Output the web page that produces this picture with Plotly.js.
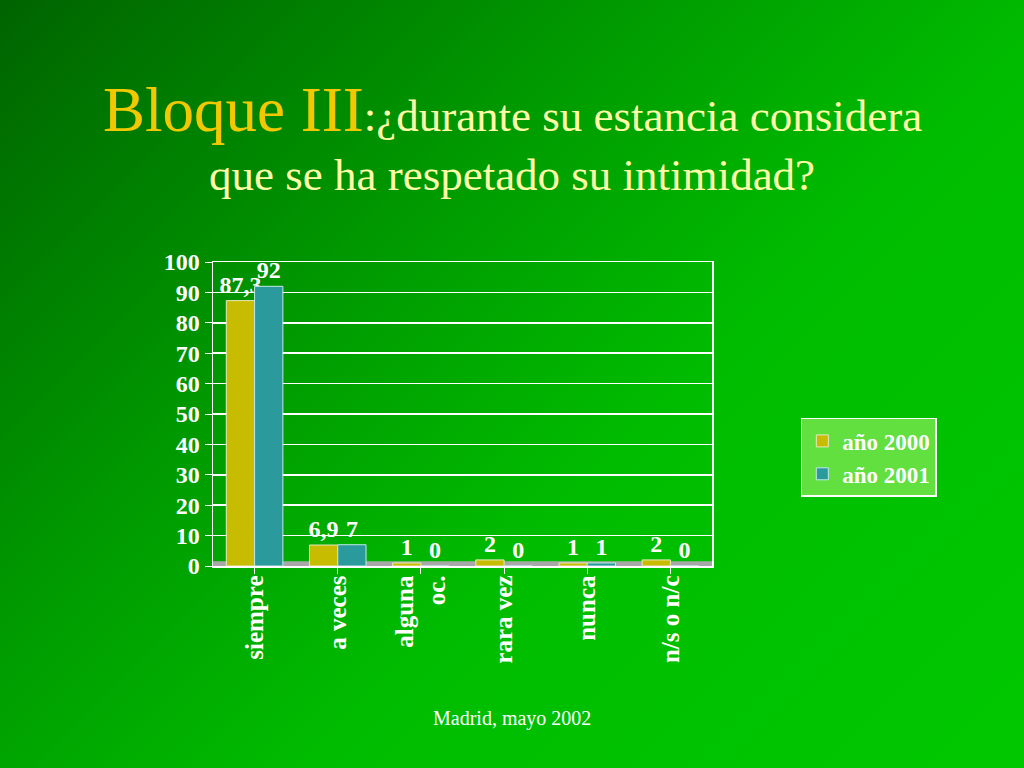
<!DOCTYPE html>
<html><head><meta charset="utf-8">
<script src="https://cdn.plot.ly/plotly-3.0.1.min.js"></script>
<style>
html,body{margin:0;padding:0;width:1024px;height:768px;overflow:hidden;
background:linear-gradient(135deg,#006400 0%,#009a00 35%,#00bc00 60%,#00c800 100%);}
#chart{width:1024px;height:768px;}
</style></head><body><div id="chart"></div>
<script>
const categories = ["siempre","a veces","alguna<br>oc.","rara vez","nunca","n/s o n/c"];
const values2000 = [87.3, 6.9, 1, 2, 1, 2];
const values2001 = [92, 7, 0, 0, 1, 0];
const seriesNames = ["año 2000","año 2001"];
const yTicks = [0,10,20,30,40,50,60,70,80,90,100];

const serif = "Liberation Serif, Times New Roman, serif";
const labelFont = {family: serif, size: 24, color: "#ffffff", weight: "bold"};

const traces = [
  {type:"bar", name:seriesNames[0], x:categories, y:values2000,
   marker:{color:"#c8bc00", line:{color:"#e8e8c0", width:1}},
   texttemplate:"%{y}", textposition:"outside", textfont:labelFont, cliponaxis:false, constraintext:"none"},
  {type:"bar", name:seriesNames[1], x:categories, y:values2001,
   marker:{color:"#2a9a9c", line:{color:"#c0e8e8", width:1}},
   texttemplate:"%{y}", textposition:"outside", textfont:labelFont, cliponaxis:false, constraintext:"none"}
];

const cx = (512-213)/499;
const layout = {
  width:1024, height:768,
  paper_bgcolor:"rgba(0,0,0,0)", plot_bgcolor:"rgba(0,0,0,0)",
  separators:",.",
  margin:{l:213, r:312, t:262, b:202},
  barmode:"group", bargap:0.32, bargroupgap:0,
  showlegend:true,
  legend:{x:1.178, y:0.487, xanchor:"left", yanchor:"top",
    bgcolor:"#62e040", bordercolor:"#ffffff", borderwidth:1.5,
    font:{family:serif, size:23, color:"#ffffff", weight:"bold"}, tracegroupgap:2},
  xaxis:{type:"category", showline:true, linecolor:"#ffffff", linewidth:1.5, mirror:true,
    ticks:"outside", tickcolor:"#ffffff", ticklen:6, tickangle:-90, ticklabelstandoff:-8,
    tickfont:{family:serif, size:25, color:"#ffffff", weight:"bold"}},
  yaxis:{range:[0,100], tickvals:yTicks, showline:true, linecolor:"#ffffff", linewidth:1.5, mirror:true,
    ticks:"outside", tickcolor:"#ffffff", ticklen:7, gridcolor:"#ffffff", gridwidth:1.5,
    zeroline:false,
    tickfont:{family:serif, size:24, color:"#ffffff", weight:"bold"}},
  shapes:[
    {type:"rect", xref:"paper", yref:"y", x0:0, x1:1, y0:0, y1:1.6, layer:"below",
     fillcolor:"#a8a8a8", line:{width:0}}
  ],
  annotations:[
    {xref:"paper", yref:"paper", x:cx, xanchor:"center", y:(566-110)/304, yanchor:"middle", showarrow:false,
     text:"<span style='color:#f2c800;font-size:63px'>Bloque III</span><span style='color:#ffffa8;font-size:45px'>:¿durante su estancia considera</span>",
     font:{family:serif, size:45, color:"#ffffa8"}},
    {xref:"paper", yref:"paper", x:cx, xanchor:"center", y:(566-175)/304, yanchor:"middle", showarrow:false,
     text:"que se ha respetado su intimidad?",
     font:{family:serif, size:45, color:"#ffffa8"}},
    {xref:"paper", yref:"paper", x:cx, xanchor:"center", y:(566-718)/304, yanchor:"middle", showarrow:false,
     text:"Madrid, mayo 2002",
     font:{family:serif, size:20, color:"#ffffff"}}
  ]
};

Plotly.newPlot("chart", traces, layout, {displayModeBar:false, staticPlot:true});
</script></body></html>
